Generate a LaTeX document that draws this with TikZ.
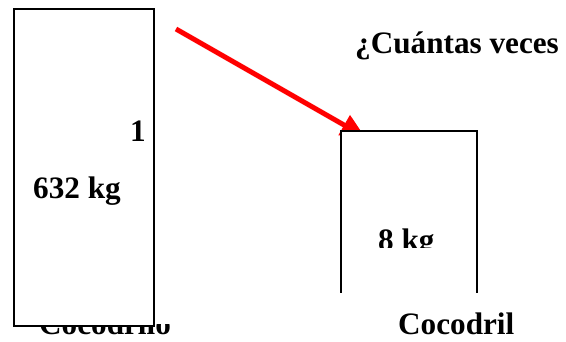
\documentclass[tikz,border=0pt]{standalone}
\usepackage{fontspec}
\setmainfont{Liberation Serif}
\usetikzlibrary{arrows.meta}
\begin{document}
\begin{tikzpicture}[x=1pt,y=-1pt,
  lbl/.style={font=\bfseries\fontsize{31.2}{36}\selectfont, inner sep=0pt, anchor=base west},
  boxline/.style={draw=black, line width=2pt},
  redarrow/.style={draw=red, line width=5pt, -{Triangle[length=24pt,width=22pt]}}]
\useasboundingbox (0,0) rectangle (566,342);
% left caption, clipped at the top
\begin{scope}
  \clip (0,325) rectangle (566,342);
  \node[lbl] (capL) at (39,335) {Cocodrilo};
\end{scope}
% arrow
\coordinate (arrS) at (176,29);
\coordinate (arrE) at (365,137);
\draw[redarrow] (arrS) -- (arrE);
% left box
\node[boxline, fill=white, minimum width=140pt, minimum height=317pt, inner sep=0pt, anchor=north west] (boxL) at (13,8) {};
\node[lbl] (one) at (130,142) {1};
\node[lbl] (bigw) at (33,199) {632 kg};
% right box without bottom edge
\fill[white] (341,131) rectangle (477,293);
\draw[boxline] (341,293) -- (341,131) -- (477,131) -- (477,293);
\coordinate (boxR) at (409,131);
\begin{scope}
  \clip (330,200) rectangle (490,248);
  \node[lbl] (smallw) at (378,251) {8 kg};
\end{scope}
\node[lbl] (capR) at (398,335) {Cocodril};
\node[lbl] (question) at (355,54) {¿Cuántas veces};
\end{tikzpicture}
\end{document}
